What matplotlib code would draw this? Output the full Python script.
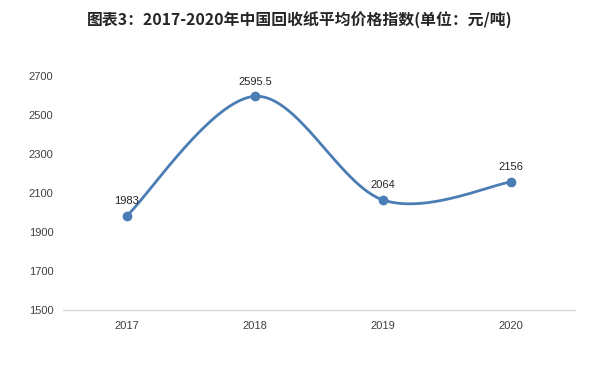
import numpy as np
import matplotlib
matplotlib.use("Agg")
import matplotlib.pyplot as plt

plt.rcParams['font.family'] = ['Noto Sans CJK SC', 'DejaVu Sans']

years = ["2017", "2018", "2019", "2020"]
values = [1983, 2595.5, 2064, 2156]
labels = ["1983", "2595.5", "2064", "2156"]
yticks = [1500, 1700, 1900, 2100, 2300, 2500, 2700]
title = "图表3：2017-2020年中国回收纸平均价格指数(单位：元/吨)"

line_color = "#4a7db4"

fig = plt.figure(figsize=(6, 3.65), dpi=100)
ax = fig.add_axes([0.105, 0.151, 0.853, 0.641])

x = np.arange(len(values), dtype=float)
y = np.array(values, dtype=float)

# Catmull-Rom smoothing (like spreadsheet smoothed lines)
px = np.concatenate([[x[0]], x, [x[-1]]])
py = np.concatenate([[y[0]], y, [y[-1]]])
sx, sy = [], []
t = np.linspace(0, 1, 60)
for i in range(1, len(px) - 2):
    p0, p1, p2, p3 = (px[i-1], py[i-1]), (px[i], py[i]), (px[i+1], py[i+1]), (px[i+2], py[i+2])
    c1 = (p1[0] + (p2[0] - p0[0]) / 6, p1[1] + (p2[1] - p0[1]) / 6)
    c2 = (p2[0] - (p3[0] - p1[0]) / 6, p2[1] - (p3[1] - p1[1]) / 6)
    bx = (1-t)**3*p1[0] + 3*(1-t)**2*t*c1[0] + 3*(1-t)*t**2*c2[0] + t**3*p2[0]
    by = (1-t)**3*p1[1] + 3*(1-t)**2*t*c1[1] + 3*(1-t)*t**2*c2[1] + t**3*p2[1]
    sx.extend(bx); sy.extend(by)

ax.plot(sx, sy, color=line_color, lw=2.0, solid_capstyle='round', zorder=2)
ax.plot(x, y, 'o', color=line_color, ms=6, zorder=3)

for xi, yi, lab in zip(x, y, labels):
    ax.annotate(lab, (xi, yi), xytext=(0, 7), textcoords='offset points',
                ha='center', va='bottom', fontsize=8, color='#262626',
                family=['Liberation Sans', 'DejaVu Sans'])

ax.set_xlim(-0.5, len(values) - 0.5)
ax.set_ylim(1500, 2700)
ax.set_xticks(x)
ax.set_xticklabels(years)
ax.set_yticks(yticks)
for lbl in ax.get_xticklabels() + ax.get_yticklabels():
    lbl.set_fontsize(8)
    lbl.set_color('#404040')
    lbl.set_family(['Liberation Sans', 'DejaVu Sans'])
ax.tick_params(axis='both', length=0)
ax.tick_params(axis='y', pad=7)
ax.tick_params(axis='x', pad=8)

for s in ['top', 'right', 'left']:
    ax.spines[s].set_visible(False)
ax.spines['bottom'].set_color('#d9d9d9')
ax.spines['bottom'].set_linewidth(1)

fig.text(0.5, 0.945, title, ha='center', va='center', fontsize=11.4,
         fontweight='bold', color='#262626')

fig.savefig("out.png", dpi=100)
